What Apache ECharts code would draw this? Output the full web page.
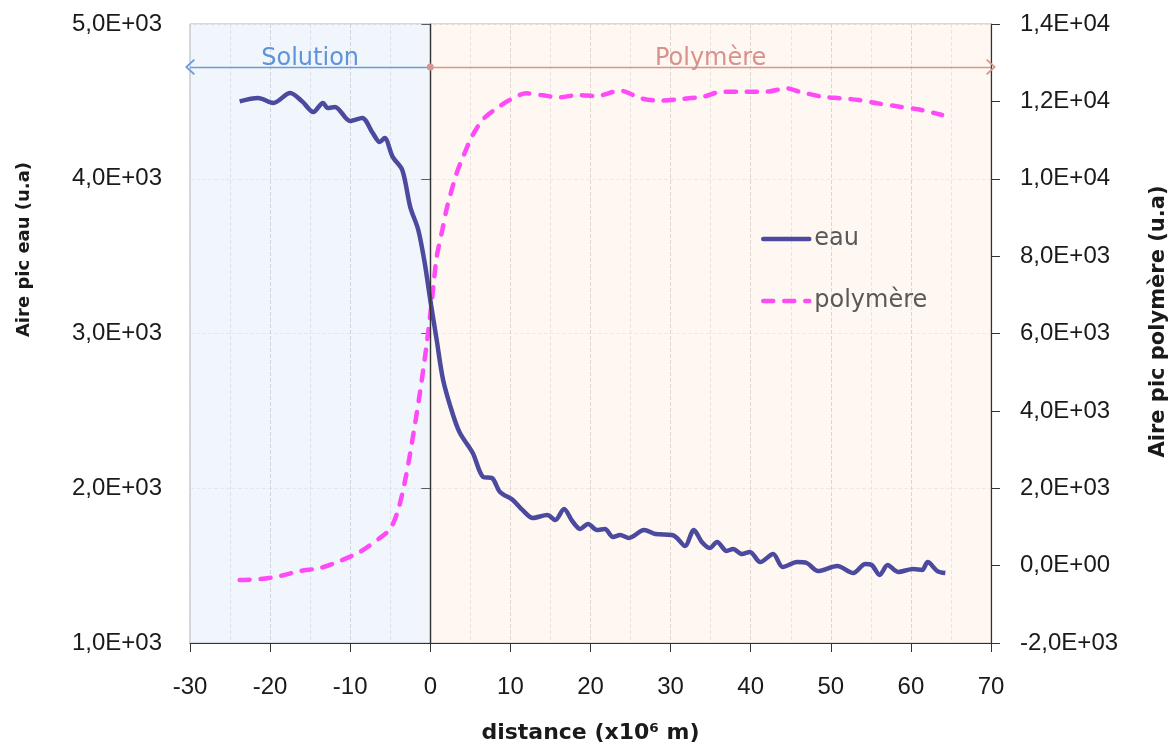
<!DOCTYPE html>
<html>
<head>
<meta charset="utf-8">
<script src="https://cdn.jsdelivr.net/npm/echarts@6/dist/echarts.min.js"></script>
<style>
  html, body { margin: 0; padding: 0; background: #fff; }
  #chart { width: 1176px; height: 744px; }
</style>
</head>
<body>
<div id="chart"></div>
<script>
// distance (x10^6 m) / aire pic eau
const eauX = [-23.8, -21.5, -19.6, -17.5, -16, -14.6, -13.4, -12.8, -11.9, -10.0, -8.5, -7.2, -6.3, -5.7, -4.7, -3.5, -2.5, -1.5, -0.7, 0,
  0.8, 1.6, 2.8, 3.7, 5.3, 6.6, 7.7, 8.7, 10.3, 11.5, 12.8, 14.6, 15.6, 16.7, 17.7, 18.7, 19.7, 20.8, 21.8, 22.8, 23.7, 24.8,
  26.7, 28.1, 30.2, 30.8, 31.8, 32.9, 33.9, 34.9, 35.8, 37.0, 37.8, 38.9, 39.9, 41.2, 42.8, 44.0, 45.8, 47.0, 48.4, 50.8,
  52.8, 54.3, 55.1, 56.1, 57.1, 58.4, 60.3, 61.4, 62.1, 63.3, 64.3];
const eauY = [4500, 4522, 4490, 4554, 4500, 4431, 4490, 4457, 4464, 4373, 4393, 4296, 4237, 4263, 4141, 4057, 3817, 3669, 3456, 3216,
  2958, 2700, 2480, 2357, 2228, 2073, 2066, 1976, 1924, 1860, 1808, 1827, 1795, 1866, 1790, 1737, 1769, 1730, 1737, 1685, 1698, 1679,
  1730, 1704, 1698, 1679, 1627, 1730, 1653, 1614, 1653, 1595, 1608, 1575, 1588, 1523, 1575, 1491, 1523, 1517, 1465, 1498,
  1452, 1510, 1504, 1440, 1504, 1459, 1478, 1472, 1523, 1465, 1452];

// distance / aire pic polymère
const polyX = [-23.8, -21.3, -18.8, -16.3, -13.8, -11.3, -8.8, -6.3, -5.0, -4.0, -3.0, -2.1, -1.3, -0.5, 0.2, 0.8, 1.5, 2.1, 3.3, 4.1,
  5.3, 6.7, 8.3, 9.9, 12.0, 13.8, 16.1, 18.4, 20.7, 23.7, 26.3, 28.6, 31.3, 34.1, 36.4, 39.2, 41.9, 44.5, 46.1, 48.9,
  51.2, 53.5, 55.8, 58.6, 60.9, 62.5, 63.9];
const polyY = [-373, -347, -270, -140, -62, 119, 351, 713, 950, 1450, 2350, 3420, 4461, 5650, 6865, 7977, 8675, 9270, 10148, 10570,
  11131, 11562, 11820, 12035, 12208, 12165, 12105, 12165, 12139, 12276, 12080, 12017, 12061, 12121, 12250, 12250, 12250, 12338, 12250, 12121,
  12080, 12035, 11950, 11862, 11795, 11720, 11648];

const leftTicks = [1000, 2000, 3000, 4000, 5000];
const rightTicks = [-2000, 0, 2000, 4000, 6000, 8000, 10000, 12000, 14000];
const xTicks = [-30, -20, -10, 0, 10, 20, 30, 40, 50, 60, 70];
const zones = ['Solution', 'Polymère'];
const arrowLevel = 4722;

function sci(v) {
  if (v === 0) return '0,0E+00';
  let e = Math.floor(Math.log10(Math.abs(v)));
  let m = v / Math.pow(10, e);
  let s = m.toFixed(1).replace('.', ',');
  return s + 'E' + (e < 0 ? '-' : '+') + String(Math.abs(e)).padStart(2, '0');
}

let chart = echarts.init(document.getElementById('chart'));
const tickFont = { color: '#1a1a1a', fontSize: 24, fontFamily: 'Liberation Sans' };
const titleFont = { color: '#1a1a1a', fontWeight: 'bold', fontFamily: 'DejaVu Sans' };
const chevron = 'path://M0,10 L10,0 L20,10 L18.5,11.5 L10,3 L1.5,11.5 Z';

let option = {
  animation: false,
  grid: {
    left: 190, right: 185, top: 24, bottom: 101,
    outerBoundsMode: 'none',
    show: true, borderColor: '#b0b0b0', borderWidth: 1
  },
  legend: {
    orient: 'vertical',
    left: 756, top: 222,
    itemWidth: 46, itemHeight: 18, itemGap: 38,
    itemStyle: { opacity: 0 },
    lineStyle: { width: 4.5, cap: 'round' },
    textStyle: { color: '#595959', fontSize: 24, fontFamily: 'DejaVu Sans' },
    data: ['eau', 'polymère']
  },
  xAxis: {
    type: 'value',
    min: xTicks[0], max: xTicks[xTicks.length - 1], interval: 10,
    name: 'distance (x10⁶ m)',
    nameLocation: 'middle', nameGap: 79,
    nameTextStyle: Object.assign({ fontSize: 22 }, titleFont),
    axisLine: { onZero: false, lineStyle: { color: '#333', width: 1.2 } },
    axisTick: { length: 9, lineStyle: { color: '#333' } },
    axisLabel: Object.assign({ margin: 32 }, tickFont),
    splitLine: { show: true, lineStyle: { color: '#d2d2d2', type: 'dashed' } },
    minorTick: { show: false, splitNumber: 2 },
    minorSplitLine: { show: true, lineStyle: { color: '#e6e6e6', type: 'dashed' } }
  },
  yAxis: [{
    type: 'value',
    min: leftTicks[0], max: leftTicks[leftTicks.length - 1], interval: 1000,
    name: 'Aire pic eau (u.a)',
    nameLocation: 'middle', nameRotate: 90, nameGap: 157,
    nameTextStyle: Object.assign({ fontSize: 18, padding: [0, 0, 0, 168] }, titleFont),
    axisLine: { show: true, lineStyle: { color: '#333', width: 1.2 } },
    axisTick: { show: true, length: 9, lineStyle: { color: '#333' } },
    axisLabel: Object.assign({ margin: 28, formatter: sci }, tickFont),
    splitLine: { show: true, lineStyle: { color: '#ececec', type: 'dashed' } }
  }, {
    type: 'value',
    position: 'right',
    min: rightTicks[0], max: rightTicks[rightTicks.length - 1], interval: 2000,
    name: 'Aire pic polymère (u.a)',
    nameLocation: 'middle', nameRotate: 90, nameGap: 157,
    nameTextStyle: Object.assign({ fontSize: 21, padding: [0, 0, 0, 24] }, titleFont),
    axisLine: { show: true, lineStyle: { color: '#333', width: 1.2 } },
    axisTick: { show: true, length: 9, lineStyle: { color: '#333' } },
    axisLabel: Object.assign({ margin: 29, formatter: sci }, tickFont),
    splitLine: { show: false }
  }],
  series: [{
    name: 'eau',
    type: 'line',
    yAxisIndex: 0,
    data: eauX.map((x, i) => [x, eauY[i]]),
    symbol: 'none',
    smooth: 0.3,
    z: 4,
    lineStyle: { color: '#4b4a9e', width: 4.5 },
    itemStyle: { color: '#4b4a9e' },
    markArea: {
      silent: true,
      data: [
        [{ xAxis: -30, itemStyle: { color: 'rgba(200,218,242,0.25)' } }, { xAxis: 0 }],
        [{ xAxis: 0, itemStyle: { color: 'rgba(250,220,196,0.22)' } }, { xAxis: 70 }]
      ]
    },
    markLine: {
      silent: true,
      animation: false,
      data: [
        [{ xAxis: 0, yAxis: leftTicks[0], symbol: 'none', lineStyle: { color: '#333', width: 1.3, type: 'solid' }, label: { show: false } },
         { xAxis: 0, yAxis: leftTicks[leftTicks.length - 1], symbol: 'none' }],
        [{ coord: [0, arrowLevel], symbol: 'none', lineStyle: { color: '#6a9bdb', width: 1.3, type: 'solid' },
           label: { show: true, position: 'middle', formatter: zones[0], color: '#5f93da', fontSize: 24, fontFamily: 'DejaVu Sans', distance: -4 } },
         { coord: [-30, arrowLevel], symbol: chevron, symbolSize: [16, 10] }],
        [{ coord: [0, arrowLevel], symbol: 'circle', symbolSize: 7, lineStyle: { color: '#d99690', width: 1.3, type: 'solid' },
           label: { show: true, position: 'middle', formatter: zones[1], color: '#d9918b', fontSize: 24, fontFamily: 'DejaVu Sans', distance: -4 } },
         { coord: [70, arrowLevel], symbol: chevron, symbolSize: [16, 10] }]
      ]
    }
  }, {
    name: 'polymère',
    type: 'line',
    yAxisIndex: 1,
    data: polyX.map((x, i) => [x, polyY[i]]),
    symbol: 'none',
    smooth: 0.3,
    z: 3,
    lineStyle: { color: '#ff4af7', width: 4.5, type: [10, 11], cap: 'round' },
    itemStyle: { color: '#ff4af7' }
  }]
};
chart.setOption(option);
window.onresize = function () {
  chart.resize();
};
</script>
</body>
</html>
